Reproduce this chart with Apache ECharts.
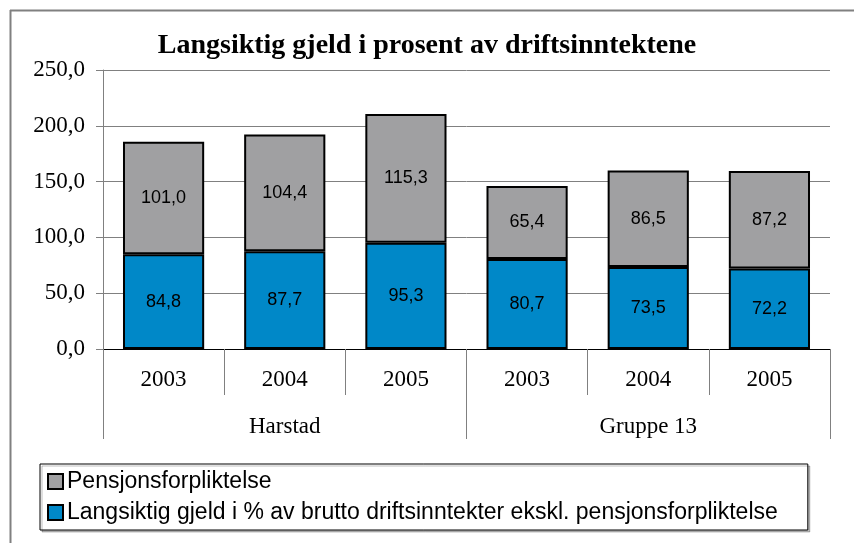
<!DOCTYPE html>
<html lang="no">
<head>
    <meta charset="UTF-8">
    <title>Langsiktig gjeld</title>
    <script src="https://cdn.jsdelivr.net/npm/echarts@6/dist/echarts.min.js"></script>
</head>
<body style="margin:0;background:#fff">
<div id="main" style="width: 854px;height:543px;"></div>
<script type="text/javascript">
    var years = ['2003', '2004', '2005', '2003', '2004', '2005'];
    var groups = ['Harstad', 'Gruppe 13'];
    var gjeld = [84.8, 87.7, 95.3, 80.7, 73.5, 72.2];
    var pensjon = [101.0, 104.4, 115.3, 65.4, 86.5, 87.2];

    function komma(v) {
        return v.toFixed(1).replace('.', ',');
    }

    var serif = '"Liberation Serif", "Times New Roman", serif';
    var sans = '"Liberation Sans", Arial, sans-serif';

    var myChart = echarts.init(document.getElementById('main'));
    var option = {
        animation: false,
        title: {
            text: 'Langsiktig gjeld i prosent av driftsinntektene',
            left: 'center',
            top: 27,
            textStyle: {fontFamily: serif, fontSize: 28, fontWeight: 'bold', color: '#000'}
        },
        // outer frame (only top and left edge fall inside the picture)
        graphic: [
            {type: 'line', shape: {x1: 10, y1: 10.5, x2: 854, y2: 10.5}, style: {stroke: '#808080', lineWidth: 2}},
            {type: 'line', shape: {x1: 10.5, y1: 10, x2: 10.5, y2: 543}, style: {stroke: '#808080', lineWidth: 2}}
        ],
        legend: {
            orient: 'vertical',
            left: 40,
            top: 464,
            padding: [6, 30, 6, 7],
            itemGap: 8,
            itemWidth: 15,
            itemHeight: 15,
            icon: 'rect',
            borderColor: '#000',
            borderWidth: 1,
            shadowColor: 'rgba(0,0,0,0.25)',
            shadowOffsetX: 2,
            shadowOffsetY: 2,
            backgroundColor: '#fff',
            textStyle: {fontFamily: sans, fontSize: 23, color: '#000', padding: [0, 0, 0, -1]},
            data: ['Pensjonsforpliktelse', 'Langsiktig gjeld i % av brutto driftsinntekter ekskl. pensjonsforpliktelse']
        },
        grid: {left: 103, right: 24, top: 70, bottom: 194},
        xAxis: [
            {
                type: 'category',
                data: years,
                axisLine: {lineStyle: {color: '#000', width: 1}},
                axisTick: {show: true, length: 46, lineStyle: {color: '#808080'}},
                axisLabel: {margin: 19, fontFamily: serif, fontSize: 23, color: '#000'}
            },
            {
                type: 'category',
                data: groups,
                position: 'bottom',
                axisLine: {show: false},
                axisTick: {show: true, length: 90, lineStyle: {color: '#808080'}},
                axisLabel: {margin: 66, fontFamily: serif, fontSize: 23, color: '#000'}
            }
        ],
        yAxis: {
            type: 'value',
            min: 0,
            max: 250,
            interval: 50,
            axisLine: {show: true, lineStyle: {color: '#808080'}},
            axisTick: {show: true, length: 7, lineStyle: {color: '#808080'}},
            splitLine: {lineStyle: {color: '#808080', width: 1}},
            axisLabel: {
                margin: 18,
                fontFamily: serif,
                fontSize: 23,
                color: '#000',
                formatter: function (v) { return komma(v); }
            }
        },
        series: [
            {
                name: 'Langsiktig gjeld i % av brutto driftsinntekter ekskl. pensjonsforpliktelse',
                type: 'bar',
                stack: 'sum',
                barCategoryGap: '33%',
                data: gjeld,
                itemStyle: {color: '#0088c8', borderColor: '#000', borderWidth: 2},
                label: {
                    show: true,
                    position: 'inside',
                    fontFamily: sans,
                    fontSize: 18,
                    color: '#000',
                    formatter: function (p) { return komma(p.value); }
                }
            },
            {
                name: 'Pensjonsforpliktelse',
                type: 'bar',
                stack: 'sum',
                data: pensjon,
                itemStyle: {color: '#a0a0a2', borderColor: '#000', borderWidth: 2},
                label: {
                    show: true,
                    position: 'inside',
                    fontFamily: sans,
                    fontSize: 18,
                    color: '#000',
                    formatter: function (p) { return komma(p.value); }
                }
            }
        ]
    };
    myChart.setOption(option);
</script>
</body>
</html>
